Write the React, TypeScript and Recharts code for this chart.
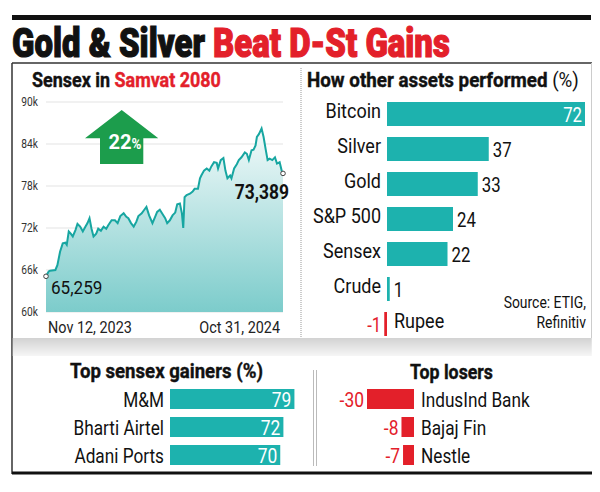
import React, { useLayoutEffect, useRef, useState } from "react";
import {
  AreaChart,
  Area,
  XAxis,
  YAxis,
  CartesianGrid,
  BarChart,
  Bar,
  Cell,
  LabelList,
} from "recharts";

const FONT = "Roboto, 'Liberation Sans', sans-serif";
const TEAL = "#1db2ae";
const LINE = "#17a6a1";
const RED = "#e3202a";
const GREEN = "#1c9d4c";
const INK = "#111";

// Sensex over Samvat 2080 (days since Nov 12, 2023 and index level)
const sensexDays = [
  0, 4, 6, 14, 17, 21, 25, 29, 31, 34, 37, 40, 44, 47, 51, 55, 59, 62, 65, 68,
  71, 75, 78, 82, 86, 90, 93, 98, 103, 107, 111, 116, 120, 123, 127, 131, 135, 138, 143, 146,
  150, 154, 159, 163, 166, 170, 174, 178, 181, 185, 189, 193, 196, 200, 203, 205, 207, 210, 215, 219,
  222, 227, 230, 232, 236, 240, 244, 247, 251, 255, 257, 261, 265, 268, 271, 275, 277, 281, 285, 288,
  292, 297, 300, 303, 307, 310, 313, 315, 318, 322, 325, 328, 331, 334, 338, 342, 345, 349, 352, 354,
];
const sensexLevels = [
  65100, 65800, 65900, 66000, 66700, 68600, 69800, 69900, 69600, 71500,
  71200, 70800, 71700, 72600, 72200, 71500, 72200, 72700, 73400, 71900,
  70800, 71200, 71900, 71600, 72200, 71900, 72400, 73100, 73100, 72700,
  73700, 74100, 73600, 73400, 72700, 72200, 72900, 73700, 74100, 74500,
  75000, 73800, 72700, 73600, 74300, 74600, 74000, 73400, 72700, 73100,
  73800, 74200, 75400, 75500, 74100, 72000, 76400, 76700, 76900, 77200,
  77600, 77600, 79100, 79500, 80200, 80500, 80200, 80800, 81400, 81300,
  80500, 81700, 82000, 80200, 79100, 79500, 79100, 80500, 81100, 81700,
  82100, 82800, 82600, 81700, 83100, 83200, 83800, 85000, 85400, 86200,
  85000, 83300, 81700, 81900, 81700, 82100, 81200, 81400, 80200, 79800,
];
const sensexTicks = [60000, 66000, 72000, 78000, 84000, 90000];
const sensexDates = ["Nov 12, 2023", "Oct 31, 2024"];
const sensexStartLabel = "65,259";
const sensexEndLabel = "73,389";
const sensexGain = "22";

const assetNames = ["Bitcoin", "Silver", "Gold", "S&P 500", "Sensex", "Crude", "Rupee"];
const assetReturns = [72, 37, 33, 24, 22, 1, -1];

const gainerNames = ["M&M", "Bharti Airtel", "Adani Ports"];
const gainerReturns = [79, 72, 70];

const loserNames = ["IndusInd Bank", "Bajaj Fin", "Nestle"];
const loserReturns = [-30, -8, -7];

const sensexData = sensexDays.map((day, i) => ({ day, level: sensexLevels[i] }));
const assetData = assetNames.map((name, i) => ({ name, value: assetReturns[i] }));
const gainerData = gainerNames.map((name, i) => ({ name, value: gainerReturns[i] }));
const loserData = loserNames.map((name, i) => ({ name, value: loserReturns[i] }));

const lastIdx = sensexData.length - 1;

// condensed text: roboto squeezed horizontally
function NText({ x, y, size, scale = 0.85, anchor = "start", weight = 400, fill = INK, children }: any) {
  return (
    <text
      transform={`translate(${x},${y}) scale(${scale},1)`}
      textAnchor={anchor}
      fontFamily={FONT}
      fontSize={size}
      fontWeight={weight}
      fill={fill}
    >
      {children}
    </text>
  );
}

// headline text squeezed to a given width
function FitText({ x, y, width, size, weight = 700, anchor = "start", fill = INK, heavy = 0, children }: any) {
  const ref = useRef<SVGTextElement>(null);
  const [s, setS] = useState(1);
  useLayoutEffect(() => {
    if (ref.current) {
      const len = ref.current.getComputedTextLength();
      if (len > 0) setS(width / len);
    }
  }, [width]);
  return (
    <text
      ref={ref}
      transform={`translate(${x},${y}) scale(${s},1)`}
      textAnchor={anchor}
      fontFamily={FONT}
      fontSize={size}
      fontWeight={weight}
      fill={fill}
      stroke={heavy ? "currentColor" : undefined}
      strokeWidth={heavy || undefined}
    >
      {children}
    </text>
  );
}

function DateTick(props: any) {
  const { x, y, index } = props;
  const first = index === 0;
  return (
    <NText x={first ? x + 2 : x - 3} y={y + 13} size={16} scale={0.9} anchor={first ? "start" : "end"} fill="#222">
      {sensexDates[first ? 0 : 1]}
    </NText>
  );
}

function LevelTick(props: any) {
  const { x, y, payload } = props;
  return (
    <NText x={x} y={y + 4} size={12} scale={0.85} anchor="end" fill="#333">
      {`${payload.value / 1000}k`}
    </NText>
  );
}

function EndDot(props: any) {
  const { cx, cy, index } = props;
  if (index !== 0 && index !== lastIdx) return <g key={`d${index}`} />;
  return <circle key={`d${index}`} cx={cx} cy={cy} r={2.3} fill="#fff" stroke="#444" strokeWidth={1} />;
}

function EndLabel(props: any) {
  const { x, y, index } = props;
  if (index === 0) {
    return (
      <NText x={x + 5} y={y + 18} size={19} scale={0.9}>
        {sensexStartLabel}
      </NText>
    );
  }
  if (index === lastIdx) {
    return (
      <NText x={x + 6} y={y + 26} size={20} weight={700} scale={0.87} anchor="end">
        {sensexEndLabel}
      </NText>
    );
  }
  return null;
}

function barLabel(
  names: string[],
  values: number[],
  nameSize: number,
  nameScale: number,
  valSize: number,
  valScale: number,
  nameDy: number,
  valDy: number,
  insideAll: boolean,
) {
  const top = Math.max(...values);
  return (props: any) => {
    const { x, y, width, height, index } = props;
    const v = values[index];
    const left = Math.min(x, x + width);
    const right = Math.max(x, x + width);
    const cy = y + height / 2;
    const zero = v >= 0 ? left : right;
    const inside = v > 0 && (insideAll || v === top);
    let valueEl;
    if (v < 0) {
      valueEl = (
        <NText x={left - 3} y={cy + valDy} size={valSize} scale={valScale} anchor="end" fill={RED}>
          {v}
        </NText>
      );
    } else if (inside) {
      valueEl = (
        <NText x={right - 3} y={cy + valDy} size={valSize} scale={valScale} anchor="end" fill="#fff">
          {v}
        </NText>
      );
    } else {
      valueEl = (
        <NText x={right + 4} y={cy + valDy} size={valSize} scale={valScale}>
          {v}
        </NText>
      );
    }
    return (
      <g key={`l${index}`}>
        <NText
          x={v >= 0 ? zero - 6 : zero + 7}
          y={cy + nameDy}
          size={nameSize}
          scale={nameScale}
          anchor={v >= 0 ? "end" : "start"}
        >
          {names[index]}
        </NText>
        {valueEl}
      </g>
    );
  };
}

export default function App() {
  return (
    <div
      style={{
        position: "absolute",
        left: 0,
        top: 0,
        width: 600,
        height: 492,
        background: "#fff",
        overflow: "hidden",
      }}
    >
      <div style={{ position: "absolute", left: 0, top: 90 }}>
        <AreaChart width={300} height={250} data={sensexData} margin={{ top: 12, right: 17, bottom: 0, left: 12 }}>
          <defs>
            <linearGradient id="sxFill" x1="0" y1="0" x2="0" y2="1">
              <stop offset="0" stopColor="#f3fafa" />
              <stop offset="1" stopColor="#7ccccb" />
            </linearGradient>
          </defs>
          <CartesianGrid vertical={false} stroke="#e3e3e3" />
          <XAxis
            dataKey="day"
            type="number"
            domain={[0, 354]}
            ticks={[0, 354]}
            tick={<DateTick />}
            tickLine={false}
            axisLine={false}
            height={28}
          />
          <YAxis
            type="number"
            domain={[60000, 90000]}
            ticks={sensexTicks}
            width={34}
            tickLine={false}
            axisLine={false}
            tick={<LevelTick />}
          />
          <Area
            dataKey="level"
            type="linear"
            stroke={LINE}
            strokeWidth={2}
            fill="url(#sxFill)"
            fillOpacity={1}
            dot={EndDot}
            activeDot={false}
            label={EndLabel}
            isAnimationActive={false}
          />
        </AreaChart>
      </div>

      <div style={{ position: "absolute", left: 300, top: 90 }}>
        <BarChart
          layout="vertical"
          width={300}
          height={251}
          data={assetData}
          margin={{ top: 6, right: 15, bottom: 0, left: 76 }}
        >
          <XAxis type="number" domain={[-4, 72]} hide />
          <YAxis type="category" dataKey="name" hide />
          <Bar dataKey="value" barSize={24} isAnimationActive={false}>
            {assetData.map((d) => (
              <Cell key={d.name} fill={d.value < 0 ? RED : TEAL} />
            ))}
            <LabelList dataKey="value" content={barLabel(assetNames, assetReturns, 20, 0.9, 21, 0.8, 4, 7.5, false)} />
          </Bar>
        </BarChart>
      </div>

      <div style={{ position: "absolute", left: 40, top: 380 }}>
        <BarChart
          layout="vertical"
          width={270}
          height={89}
          data={gainerData}
          margin={{ top: 5, right: 14, bottom: 0, left: 130 }}
        >
          <XAxis type="number" domain={[0, 80]} hide />
          <YAxis type="category" dataKey="name" hide />
          <Bar dataKey="value" barSize={20} fill={TEAL} isAnimationActive={false}>
            <LabelList dataKey="value" content={barLabel(gainerNames, gainerReturns, 21, 0.82, 21, 0.83, 8, 8, true)} />
          </Bar>
        </BarChart>
      </div>

      <div style={{ position: "absolute", left: 320, top: 380 }}>
        <BarChart
          layout="vertical"
          width={270}
          height={89}
          data={loserData}
          margin={{ top: 5, right: 176, bottom: 0, left: 47 }}
        >
          <XAxis type="number" domain={[-30, 0]} hide />
          <YAxis type="category" dataKey="name" hide />
          <Bar dataKey="value" barSize={20} fill={RED} isAnimationActive={false}>
            <LabelList dataKey="value" content={barLabel(loserNames, loserReturns, 21, 0.82, 21, 0.83, 8, 8, false)} />
          </Bar>
        </BarChart>
      </div>

      <svg
        width={600}
        height={492}
        style={{ position: "absolute", left: 0, top: 0, pointerEvents: "none" }}
      >
        <defs>
          <linearGradient id="band" x1="0" y1="0" x2="0" y2="1">
            <stop offset="0" stopColor="#d2d2d2" />
            <stop offset="1" stopColor="#f6f6f6" />
          </linearGradient>
        </defs>
        <rect x={12} y={15} width={579} height={5} fill={INK} />
        <FitText x={12} y={57} width={438} size={41} weight={900}>
          <tspan fill={INK} stroke={INK} strokeWidth={1.2}>Gold &amp; Silver </tspan>
          <tspan fill={RED} stroke={RED} strokeWidth={1.2}>Beat D-St Gains</tspan>
        </FitText>

        {/* frame */}
        <line x1={12} y1={63} x2={592} y2={63} stroke="#333" strokeWidth={1.5} />
        <line x1={12} y1={63} x2={12} y2={474} stroke="#333" strokeWidth={1.5} />
        <line x1={591.5} y1={63} x2={591.5} y2={338} stroke="#ccc" strokeWidth={1} />
        <rect x={12.75} y={338} width={579} height={18} fill="url(#band)" />
        <line x1={12} y1={473} x2={592} y2={473} stroke={INK} strokeWidth={3} />
        <line x1={301} y1={68} x2={301} y2={337} stroke="#999" strokeWidth={1} strokeDasharray="1 1" />
        <line x1={313.5} y1={370} x2={313.5} y2={466} stroke="#bbb" strokeWidth={1} />
        <line x1={316.5} y1={370} x2={316.5} y2={466} stroke="#bbb" strokeWidth={1} />

        {/* panel titles */}
        <FitText x={32} y={86.5} width={189} size={20}>
          <tspan fill={INK} stroke={INK} strokeWidth={0.4}>Sensex in </tspan>
          <tspan fill={RED} stroke={RED} strokeWidth={0.4}>Samvat 2080</tspan>
        </FitText>
        <FitText x={307} y={86.5} width={272} size={20}>
          <tspan fontWeight={700} stroke={INK} strokeWidth={0.4}>How other assets performed </tspan>
          <tspan fontWeight={400}>(%)</tspan>
        </FitText>
        <FitText x={70} y={378} width={193} size={21}>
          <tspan stroke={INK} strokeWidth={0.4}>Top sensex gainers (%)</tspan>
        </FitText>
        <FitText x={410} y={379} width={83} size={21}>
          <tspan stroke={INK} strokeWidth={0.4}>Top losers</tspan>
        </FitText>

        {/* gain arrow */}
        <polygon
          points="121.7,110 158.3,138.3 143.3,138.3 143.3,164 100,164 100,138.3 85,138.3"
          fill={GREEN}
        />
        <FitText x={108.5} y={148.5} width={33} size={21} fill="#fff">
          <tspan>{sensexGain}</tspan>
          <tspan fontSize={14}>%</tspan>
        </FitText>

        {/* source */}
        <NText x={586} y={308} size={17} scale={0.82} anchor="end">
          Source: ETIG,
        </NText>
        <NText x={586} y={328} size={17} scale={0.82} anchor="end">
          Refinitiv
        </NText>
      </svg>
    </div>
  );
}
